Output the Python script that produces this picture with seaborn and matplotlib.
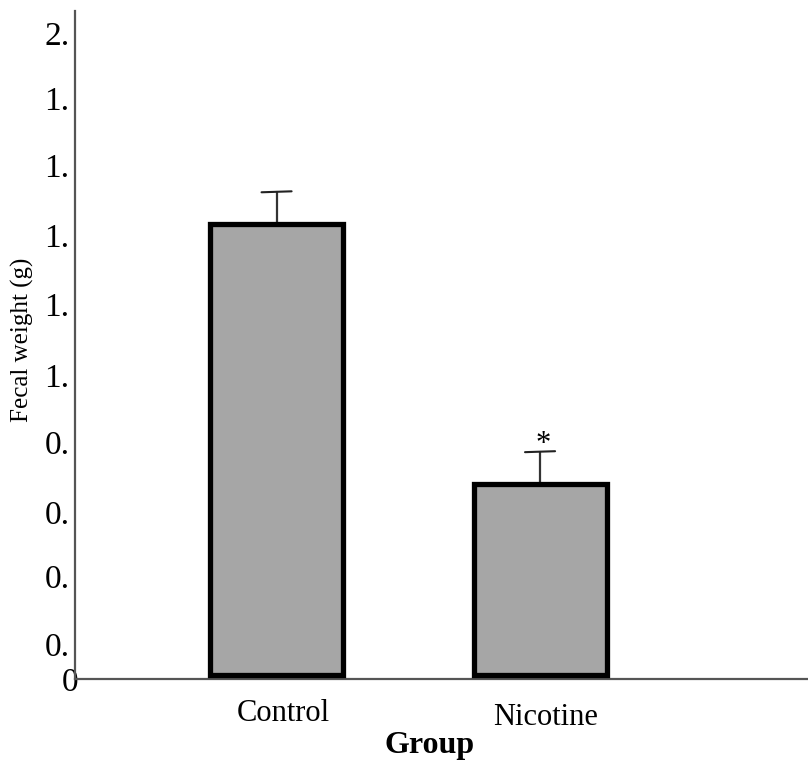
import matplotlib
matplotlib.use("Agg")
import matplotlib.pyplot as plt
import matplotlib.transforms as mtransforms
import seaborn as sns
import pandas as pd

groups = ["Control", "Nicotine"]
means = [1.405, 0.595]
errors = [0.10, 0.10]
sig_marks = ["", "*"]
ytick_labels = ["0", "0.", "0.", "0.", "0.", "1.", "1.", "1.", "1.", "1.", "2."]
ytick_vals = [-0.012, 0.096, 0.307, 0.509, 0.727, 0.935, 1.155, 1.37, 1.59, 1.798, 2.0]

df = pd.DataFrame({"Group": groups, "Fecal weight (g)": means})

sns.set_style("white")
plt.rcParams["font.family"] = ["Liberation Serif", "DejaVu Serif"]
plt.rcParams["text.color"] = "black"
plt.rcParams["xtick.color"] = "black"
plt.rcParams["ytick.color"] = "black"
plt.rcParams["axes.labelcolor"] = "black"

fig = plt.figure(figsize=(8.08, 7.64), dpi=100)
ax = fig.add_axes([75 / 808, 1 - 679 / 764, 733 / 808, 668 / 764])

sns.barplot(data=df, x="Group", y="Fecal weight (g)", ax=ax, color="#a6a6a6",
            width=0.505, edgecolor="black", linewidth=3.8, saturation=1, errorbar=None)
for p in ax.patches:
    p.set_clip_on(False)
    p.set_zorder(3)

for i, (m, e) in enumerate(zip(means, errors)):
    ax.plot([i, i], [m, m + e], color="#333333", lw=1.6, zorder=1)
    ax.plot([i - 0.057, i + 0.057], [m + e, m + e + 0.003], color="#222222", lw=1.5, zorder=1)
    if sig_marks[i]:
        ax.text(i + 0.012, m + e - 0.022, sig_marks[i], ha="center", va="bottom", fontsize=22)

ax.set_xlim(-0.765, 2.017)
ax.set_ylim(0, 2.07)

ax.set_yticks(ytick_vals)
ax.set_yticklabels(ytick_labels, fontsize=24)
ax.tick_params(axis="y", length=0, pad=4)
ax.tick_params(axis="x", length=0, pad=0, labelsize=22)
ax.set_xticklabels([])
# shift the "0" label right so it touches the axis as in the reference
zero_lbl = ax.get_yticklabels()[0]
zero_lbl.set_transform(zero_lbl.get_transform() + mtransforms.ScaledTranslation(9 / 100, 0, fig.dpi_scale_trans))

xlabel_offsets = [(0.025, -0.052), (0.02, -0.058)]
for i, g in enumerate(groups):
    dx, dy = xlabel_offsets[i]
    ax.text(i + dx, dy, g, transform=ax.get_xaxis_transform(), ha="center", va="center", fontsize=22)

for s in ["top", "right"]:
    ax.spines[s].set_visible(False)
for s in ["left", "bottom"]:
    ax.spines[s].set_color("#555555")
    ax.spines[s].set_linewidth(1.6)

ax.set_xlabel("")
ax.text((430 - 75) / 733, -(745 - 679) / 668, "Group", transform=ax.transAxes,
        ha="center", va="center", fontsize=23, fontweight="bold")
ax.set_ylabel("Fecal weight (g)", fontsize=18)
ax.yaxis.set_label_coords(-(75 - 22) / 733, (679 - 340) / 668)
ax.yaxis.label.set_va("center")

fig.savefig("out.png", dpi=100)
